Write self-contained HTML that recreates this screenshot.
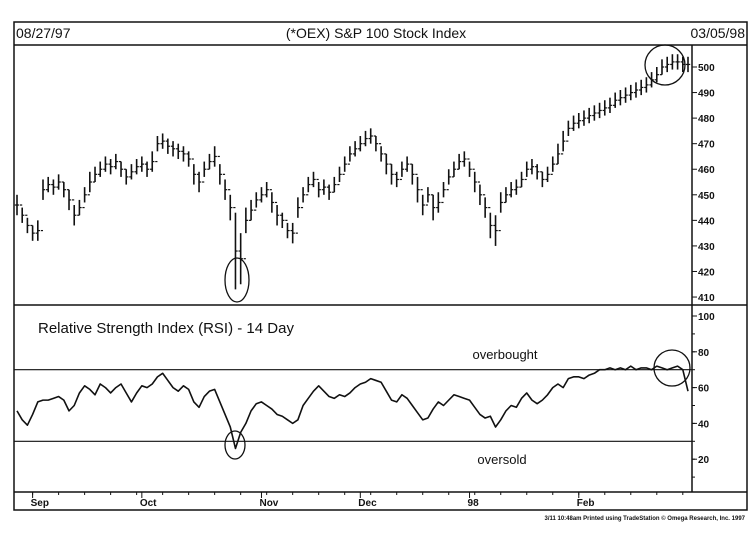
<!DOCTYPE html>
<html><head><meta charset="utf-8">
<style>
html,body{margin:0;padding:0;background:#fff;}
svg{display:block;font-family:"Liberation Sans",Arial,sans-serif;}
</style></head>
<body>
<svg id="chart" width="753" height="535" viewBox="0 0 753 535" xmlns="http://www.w3.org/2000/svg">
  <rect x="14" y="22" width="733" height="488" fill="#fff" stroke="#111" stroke-width="1.5"/>
  <line x1="14" y1="45" x2="747" y2="45" stroke="#111" stroke-width="1.5"/>
  <line x1="692" y1="45" x2="692" y2="492" stroke="#111" stroke-width="1.5"/>
  <line x1="14" y1="305" x2="747" y2="305" stroke="#111" stroke-width="1.5"/>
  <line x1="14" y1="492" x2="747" y2="492" stroke="#111" stroke-width="1.5"/>
  <text x="16" y="38" font-size="14" fill="#111">08/27/97</text>
  <text x="376" y="38" font-size="14" text-anchor="middle" fill="#111">(*OEX) S&amp;P 100 Stock Index</text>
  <text x="745" y="38" font-size="14" text-anchor="end" fill="#111">03/05/98</text>
  <text x="38" y="333" font-size="15" fill="#111">Relative Strength Index (RSI) - 14 Day</text>
  <text x="505" y="359" font-size="13" text-anchor="middle" fill="#111">overbought</text>
  <text x="502" y="464" font-size="13" text-anchor="middle" fill="#111">oversold</text>
  <text x="745" y="520" font-size="6" text-anchor="end" fill="#111" font-weight="bold">3/11 10:48am Printed using TradeStation © Omega Research, Inc. 1997</text>
  <g id="price"></g><g id="rsi"></g><g id="axes"></g>
  <ellipse cx="237" cy="280" rx="12" ry="22" fill="none" stroke="#111" stroke-width="1.3"/>
  <circle cx="665" cy="65" r="20" fill="none" stroke="#111" stroke-width="1.3"/>
  <ellipse cx="235" cy="445" rx="10" ry="14" fill="none" stroke="#111" stroke-width="1.3"/>
  <circle cx="672" cy="368" r="18" fill="none" stroke="#111" stroke-width="1.3"/>
</svg>
<script>
const priceMid=[446,442,438,435,436,452,454,453,455,452,
448,442,445,450,455,458,460,462,461,463,
460,457,459,461,462,460,463,470,471,469,
468,467,466,464,458,455,460,463,465,458,
452,445,428,425,440,444,448,450,452,447,
442,440,436,435,445,450,454,456,452,453,
451,454,458,462,466,468,470,472,473,470,
466,462,458,456,460,462,458,452,446,450,
445,447,452,457,460,463,464,460,455,450,
445,438,436,447,450,452,453,456,460,461,
459,456,458,462,466,471,476,478,479,480,
481,482,483,484,485,487,488,489,490,491,
492,493,495,497,500,501,502,502,501,501];
const priceHalfRange=[4,3,3,3,4,4,3,3,3,3,
4,4,3,3,4,3,3,3,3,3,
3,3,3,3,3,3,4,3,3,3,
3,3,3,3,4,4,3,3,4,4,
4,5,15,10,5,4,3,3,3,4,
4,3,3,4,4,3,3,3,3,3,
3,3,3,3,3,3,3,3,3,3,
3,4,4,3,3,3,4,5,4,3,
5,4,3,3,3,3,3,3,4,4,
4,5,6,4,3,3,3,3,3,3,
3,3,3,3,4,4,3,3,3,3,
3,3,3,3,3,3,3,3,3,3,
3,3,3,3,3,3,3,3,3,3];
const rsiValues=[47,42,39,45,52,53,53,54,55,53,
47,50,57,61,59,56,62,60,57,60,
62,57,52,57,61,60,62,66,68,64,
60,58,61,59,52,49,55,58,59,52,
45,38,26,35,40,47,51,52,50,48,
45,44,42,40,42,50,54,58,61,58,
55,54,56,55,57,60,62,63,65,64,
63,58,53,52,56,54,50,46,42,43,
48,52,50,53,56,55,54,53,49,45,
43,44,38,42,47,50,49,54,57,53,
51,53,56,60,62,60,65,66,66,65,
67,68,70,70,71,70,71,70,72,70,
71,71,70,72,71,70,71,72,70,58];
const priceTicks=[410,420,430,440,450,460,470,480,490,500];
const rsiTicks=[20,40,60,80,100];
const rsiLevels=[70,30];
const monthLabels=["Sep","Oct","Nov","Dec","98","Feb"];
const monthBarIndex=[3,24,47,66,87,108];

const NS="http://www.w3.org/2000/svg";
function mk(tag,attrs,parent){const e=document.createElementNS(NS,tag);for(const k in attrs)e.setAttribute(k,attrs[k]);parent.appendChild(e);return e;}
const xOf=i=>17+i*(671/(priceMid.length-1));
const yPrice=p=>67+(500-p)*2.556;
const yRsi=v=>316+(100-v)*1.79;
const gP=document.getElementById('price'),gR=document.getElementById('rsi'),gA=document.getElementById('axes');

priceMid.forEach((m,i)=>{
  const x=xOf(i),hi=m+priceHalfRange[i],lo=m-priceHalfRange[i];
  const g=mk('g',{},gP);
  
  
  mk('line',{x1:x,y1:yPrice(hi),x2:x,y2:yPrice(lo),stroke:'#111','stroke-width':1.6},g);
  const op=priceMid[i-1]!==undefined?priceMid[i-1]:m;
  mk('line',{x1:x-2.2,y1:yPrice(op),x2:x,y2:yPrice(op),stroke:'#111','stroke-width':1.2},g);
  mk('line',{x1:x,y1:yPrice(m),x2:x+2.2,y2:yPrice(m),stroke:'#111','stroke-width':1.2},g);
});

rsiLevels.forEach(v=>{
  const l=mk('line',{x1:14,y1:yRsi(v),x2:692,y2:yRsi(v),stroke:'#111','stroke-width':1.2},gR);
  
  
});
const pl=mk('polyline',{points:rsiValues.map((v,i)=>xOf(i)+','+yRsi(v)).join(' '),fill:'none',stroke:'#111','stroke-width':1.6,'stroke-linejoin':'round'},gR);



priceTicks.forEach(p=>{
  const y=yPrice(p);
  mk('line',{x1:692,y1:y,x2:697,y2:y,stroke:'#111','stroke-width':1},gA);
  const t=mk('text',{x:698,y:y+4,'font-size':10,'font-weight':'bold',fill:'#111'},gA);
  t.textContent=p;
  
  
});
for(let v=10;v<=100;v+=10){const y=yRsi(v);mk('line',{x1:692,y1:y,x2:695,y2:y,stroke:'#111','stroke-width':1},gA);}
rsiTicks.forEach(v=>{
  const y=yRsi(v);
  mk('line',{x1:692,y1:y,x2:697,y2:y,stroke:'#111','stroke-width':1},gA);
  const t=mk('text',{x:698,y:y+4,'font-size':10,'font-weight':'bold',fill:'#111'},gA);
  t.textContent=v;
  
  
});
for(let i=3;i<priceMid.length;i+=5){const x=xOf(i);mk('line',{x1:x,y1:492,x2:x,y2:495,stroke:'#111','stroke-width':1},gA);}
monthLabels.forEach((m,k)=>{
  const x=xOf(monthBarIndex[k]);
  mk('line',{x1:x,y1:492,x2:x,y2:498,stroke:'#111','stroke-width':1},gA);
  const t=mk('text',{x:x-2,y:506,'font-size':10,'font-weight':'bold',fill:'#111'},gA);
  t.textContent=m;
  
  
});
</script>
</body></html>
